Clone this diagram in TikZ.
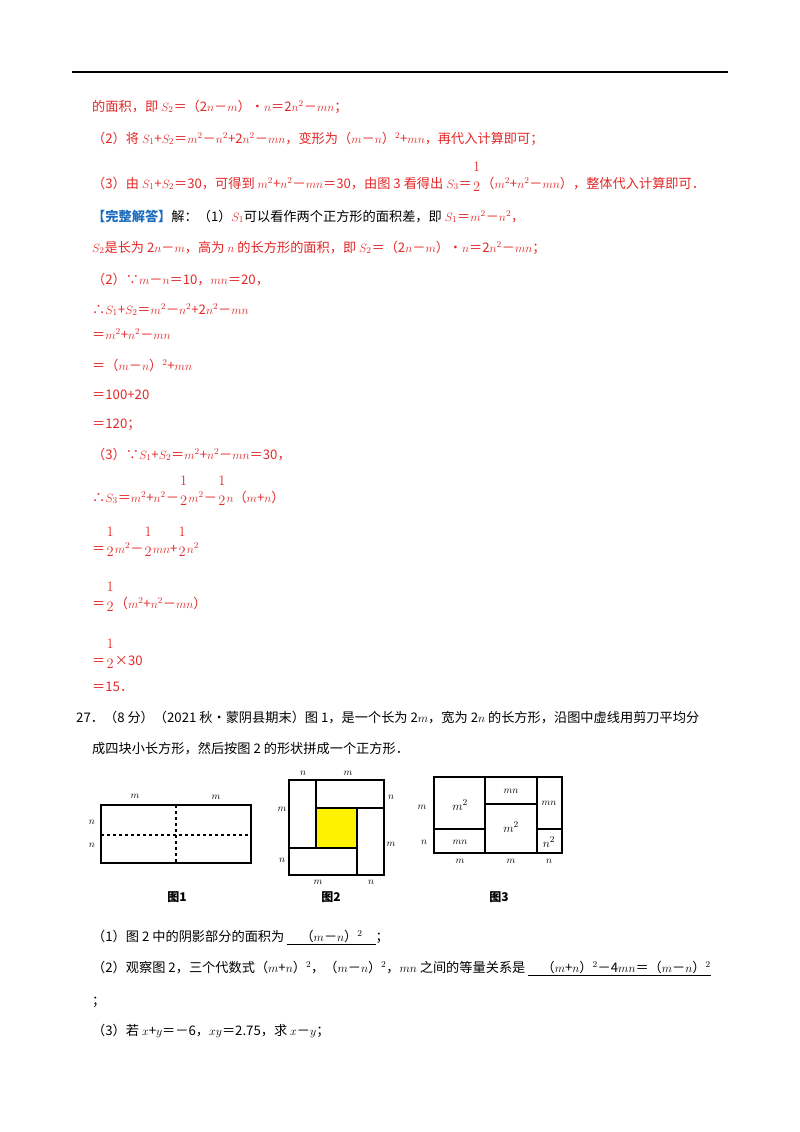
\documentclass[tikz,border=0pt]{standalone}
\usepackage{amsmath}
\usepackage{fontspec}
\setmainfont{Noto Sans CJK SC}
\definecolor{rd}{RGB}{228,40,40}
\definecolor{bl}{RGB}{30,110,190}
\newcommand{\hf}{\raisebox{0.5em}{\Large$\genfrac{}{}{0pt}{0}{1}{2}$}}
\tikzset{ln/.style={anchor=base west,inner sep=0,font=\fontsize{13.2}{15}\selectfont},
 r/.style={ln,text=rd}, lab/.style={inner sep=0,font=\fontsize{10}{12}\selectfont\itshape},
 fig/.style={line width=1.1pt}}
\begin{document}
\begin{tikzpicture}[x=1pt,y=-1pt]
\useasboundingbox (0,0) rectangle (800,1132);
\fill[white] (0,0) rectangle (800,1132);
\draw[line width=1.2pt] (72,72) -- (728,72);
\node[r] (l1) at (92,111) {的面积，即 $S_2$＝（2$n$－$m$）•$n$＝2$n^2$－$mn$；};
\node[r] (l2) at (92,143) {（2）将 $S_1$+$S_2$＝$m^2$－$n^2$+2$n^2$－$mn$，变形为（$m$－$n$）$^2$+$mn$，再代入计算即可；};
\node[r] (l3) at (92,188) {（3）由 $S_1$+$S_2$＝30，可得到 $m^2$+$n^2$－$mn$＝30，由图 3 看得出 $S_3$＝\hf（$m^2$+$n^2$－$mn$），整体代入计算即可．};
\node[ln] (l4) at (92,221) {\textcolor{bl}{\bfseries【完整解答】}解：（1）\textcolor{rd}{$S_1$}可以看作两个正方形的面积差，即 \textcolor{rd}{$S_1$＝$m^2$－$n^2$，}};
\node[r] (l5) at (92,252) {$S_2$是长为 2$n$－$m$，高为 $n$ 的长方形的面积，即 $S_2$＝（2$n$－$m$）•$n$＝2$n^2$－$mn$；};
\node[r] (l6) at (92,284) {（2）∵$m$－$n$＝10，$mn$＝20，};
\node[r] (l7) at (92,314) {∴$S_1$+$S_2$＝$m^2$－$n^2$+2$n^2$－$mn$};
\node[r] (l8) at (92,339) {＝$m^2$+$n^2$－$mn$};
\node[r] (l9) at (92,370) {＝（$m$－$n$）$^2$+$mn$};
\node[r] (l10) at (92,399) {＝100+20};
\node[r] (l11) at (92,428) {＝120；};
\node[r] (l12) at (92,459) {（3）∵$S_1$+$S_2$＝$m^2$+$n^2$－$mn$＝30，};
\node[r] (l13) at (92,502) {∴$S_3$＝$m^2$+$n^2$－\hf$m^2$－\hf$n$（$m$+$n$）};
\node[r] (l14) at (92,553) {＝\hf$m^2$－\hf$mn$+\hf$n^2$};
\node[r] (l15) at (92,608) {＝\hf（$m^2$+$n^2$－$mn$）};
\node[r] (l16) at (92,665) {＝\hf×30};
\node[r] (l17) at (92,691) {＝15．};
\node[ln] (l18) at (76,722) {27．（8 分）（2021 秋•蒙阴县期末）图 1，是一个长为 2$m$，宽为 2$n$ 的长方形，沿图中虚线用剪刀平均分};
\node[ln] (l19) at (92,753) {成四块小长方形，然后按图 2 的形状拼成一个正方形．};
% Fig1
\draw[fig] (101,805) rectangle (251,863);
\draw[fig,dashed] (101,835) -- (251,835) (176,805) -- (176,863);
\node[lab] at (135,796) {$m$}; \node[lab] at (216,797) {$m$};
\node[lab] at (92,822) {$n$}; \node[lab] at (92,845) {$n$};
% Fig2
\fill[yellow] (316,808) rectangle (357,848);
\draw[fig] (289,780) rectangle (384,875);
\draw[fig] (316,780) -- (316,848) (316,808) -- (384,808) (357,808) -- (357,875) (289,848) -- (357,848);
\node[lab] at (303,773) {$n$}; \node[lab] at (348,773) {$m$};
\node[lab] at (391,797) {$n$}; \node[lab] at (282,809) {$m$};
\node[lab] at (391,844) {$m$}; \node[lab] at (282,860) {$n$};
\node[lab] at (318,882) {$m$}; \node[lab] at (371,882) {$n$};
% Fig3
\draw[fig] (434,777) rectangle (562,853);
\draw[fig] (485,777) -- (485,853) (537,777) -- (537,853) (434,829) -- (485,829) (485,804) -- (537,804) (537,829) -- (562,829);
\node[lab,font=\fontsize{13}{14}\selectfont] at (460,805) {$m^2$};
\node[lab,font=\fontsize{13}{14}\selectfont] at (511,827) {$m^2$};
\node[lab,font=\fontsize{13}{14}\selectfont] at (549,842) {$n^2$};
\node[lab] at (511,791) {$mn$}; \node[lab] at (549,803) {$mn$}; \node[lab] at (460,842) {$mn$};
\node[lab] at (422,807) {$m$}; \node[lab] at (424,842) {$n$};
\node[lab] at (460,861) {$m$}; \node[lab] at (511,861) {$m$}; \node[lab] at (549,861) {$n$};
\node[lab,font=\fontsize{12}{14}\selectfont\bfseries] at (177,897) {图1};
\node[lab,font=\fontsize{12}{14}\selectfont\bfseries] at (331,897) {图2};
\node[lab,font=\fontsize{12}{14}\selectfont\bfseries] at (499,897) {图3};
\node[ln] (q1) at (92,941) {（1）图 2 中的阴影部分的面积为 \underline{\quad（$m$－$n$）$^2$\quad}；};
\node[ln] (q2) at (92,972) {（2）观察图 2，三个代数式（$m$+$n$）$^2$，（$m$－$n$）$^2$，$mn$ 之间的等量关系是 \underline{\quad（$m$+$n$）$^2$－4$mn$＝（$m$－$n$）$^2$}};
\node[ln] (q3) at (92,1005) {；};
\node[ln] (q4) at (92,1035) {（3）若 $x$+$y$＝－6，$xy$＝2.75，求 $x$－$y$；};
\end{tikzpicture}
\end{document}
